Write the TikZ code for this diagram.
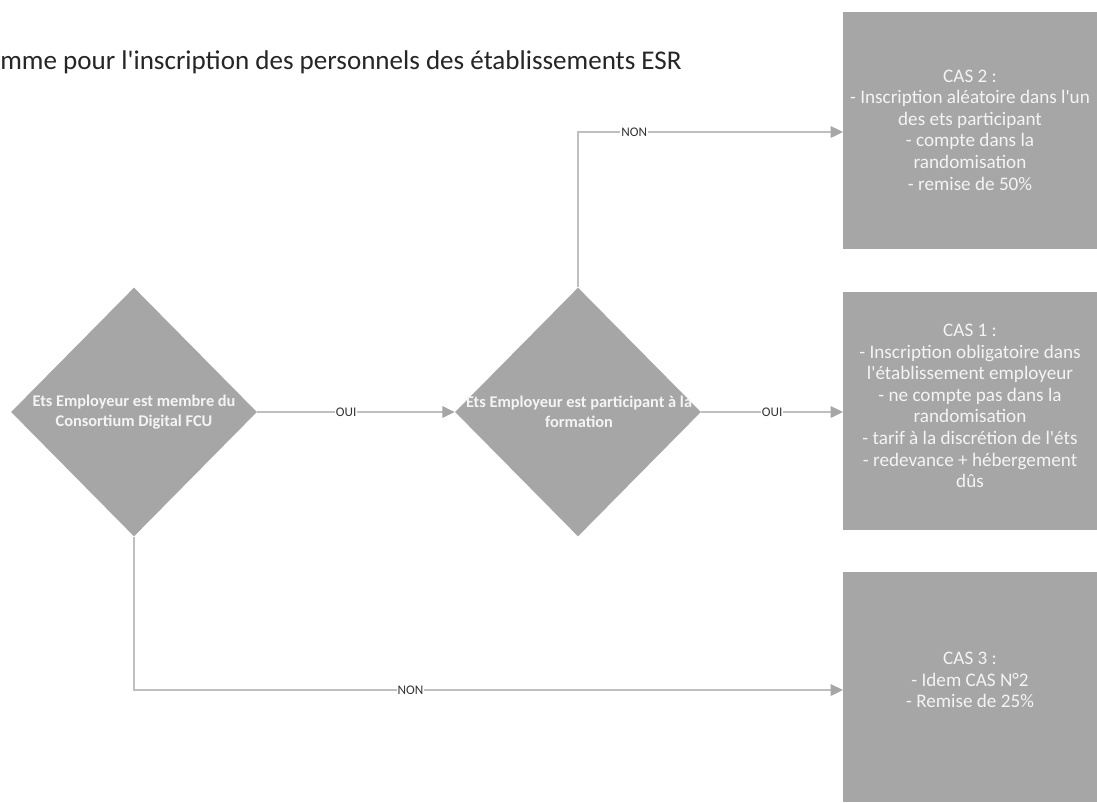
\documentclass[tikz,border=0pt]{standalone}
\usepackage{fontspec}
\setmainfont{Carlito}[Ligatures=TeXOff]
\usetikzlibrary{shapes.geometric,arrows.meta}
\definecolor{boxgray}{HTML}{A6A6A6}
\definecolor{linegray}{HTML}{BFBFBF}
\definecolor{txtwhite}{HTML}{F4F4F4}
\tikzset{
  dia/.style={diamond,fill=boxgray,draw=none,inner sep=0pt,minimum width=4.92cm,minimum height=4.98cm,shape aspect=1},
  diatext/.style={text=txtwhite,font=\bfseries\fontsize{9.3}{11.3}\selectfont,align=center},
  casebox/.style={fill=none,draw=none,text=txtwhite,font=\fontsize{10.9}{12.3}\selectfont,align=center,inner sep=0pt},
  conn/.style={draw=linegray,line width=1.1pt,-{Triangle[length=7pt,width=6.5pt,fill=boxgray,color=boxgray]}},
  lbl/.style={fill=white,inner sep=0.5pt,font=\fontsize{7.5}{8}\selectfont,text=black!80}
}
\begin{document}
\begin{tikzpicture}[x=0.02cm,y=-0.02cm]
\useasboundingbox (0,0) rectangle (1097,802);
\fill[white] (0,0) rectangle (1097,802);
% title
\node[anchor=west,inner sep=0pt,font=\fontsize{15.4}{18}\selectfont,text=black!85] (title) at (0,62) {mme pour l'inscription des personnels des établissements ESR};
% case boxes
\fill[boxgray] (843,12) rectangle (1097,249);
\fill[boxgray] (843,292) rectangle (1097,530);
\fill[boxgray] (843,572) rectangle (1097,802);
\coordinate (c2in) at (843,132);
\coordinate (c1in) at (843,412);
\coordinate (c3in) at (843,690);
\node[casebox] (cas2) at (970,130) {CAS 2 :\\- Inscription aléatoire dans l'un\\des ets participant\\- compte dans la\\randomisation\\- remise de 50\%};
\node[casebox] (cas1) at (970,406) {CAS 1 :\\- Inscription obligatoire dans\\l'établissement employeur\\- ne compte pas dans la\\randomisation\\- tarif à la discrétion de l'éts\\- redevance + hébergement\\dûs};
\node[casebox] (cas3) at (970,680) {CAS 3 :\\- Idem CAS N°2\\- Remise de 25\%};
% diamonds
\node[dia] (d1) at (134,412) {};
\node[diatext] (d1t) at (134,412) {Ets Employeur est membre du\\Consortium Digital FCU};
\node[dia] (d2) at (578,412) {};
\node[diatext] (d2t) at (579,412) {Ets Employeur est participant à la\\formation};
% connectors
\draw[conn] (d1.east) -- node[lbl,pos=0.45]{OUI} (d2.west);
\draw[conn] (d2.east) -- node[lbl]{OUI} (c1in);
\draw[conn] (d2.north) |- node[lbl,pos=0.606]{NON} (c2in);
\draw[conn] (d1.south) |- node[lbl,pos=0.695]{NON} (c3in);
\end{tikzpicture}
\end{document}
